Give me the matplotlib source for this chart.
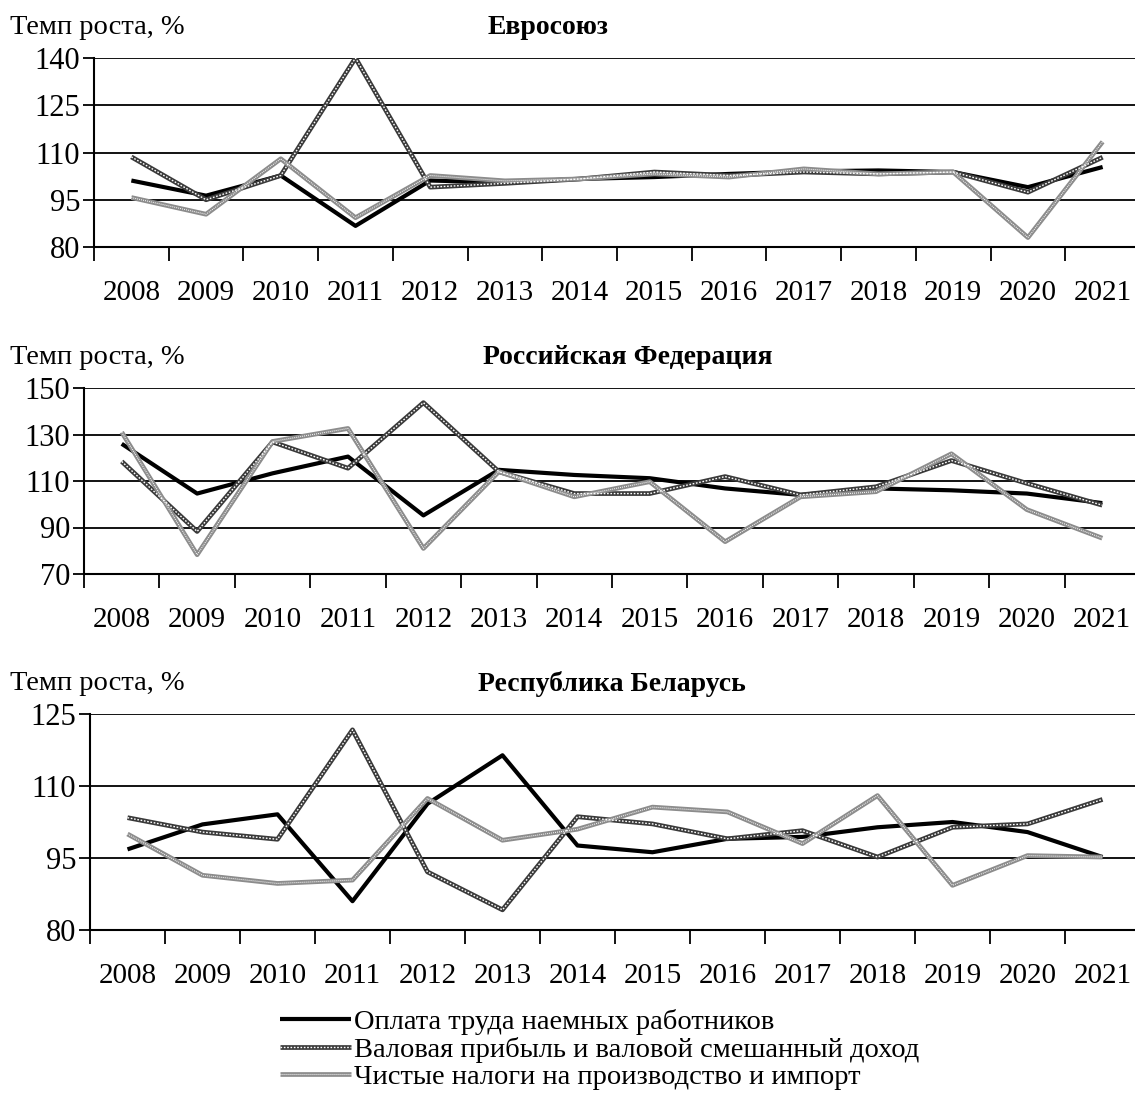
import matplotlib
matplotlib.use("Agg")
import matplotlib.pyplot as plt
from matplotlib.legend_handler import HandlerTuple

plt.rcParams['font.family'] = ['Liberation Serif', 'DejaVu Serif']

years = [str(y) for y in range(2008, 2022)]
series_names = ["Оплата труда наемных работников",
                "Валовая прибыль и валовой смешанный доход",
                "Чистые налоги на производство и импорт"]

eu_comp = [101.1, 96.3, 102.7, 86.7, 101.1, 100.5, 101.6, 102.2, 103.2, 104.0, 104.3, 103.8, 99.0, 105.4]
eu_gross = [108.6, 95.0, 102.7, 140.0, 99.0, 100.2, 101.6, 103.8, 102.7, 103.8, 103.2, 103.8, 97.4, 108.5]
eu_tax = [95.7, 90.4, 108.0, 89.3, 102.7, 101.0, 101.6, 103.2, 102.2, 104.8, 103.2, 103.8, 83.0, 113.4]

ru_comp = [126.0, 104.6, 113.3, 120.5, 95.2, 114.8, 112.6, 111.2, 106.8, 104.0, 106.8, 106.0, 104.6, 100.5]
ru_gross = [118.4, 88.3, 126.8, 115.5, 143.7, 114.0, 104.6, 104.6, 111.9, 104.0, 107.5, 118.8, 109.0, 99.6]
ru_tax = [131.0, 78.3, 127.0, 132.6, 81.0, 114.0, 103.2, 109.7, 83.9, 103.2, 105.4, 121.7, 97.7, 85.4]

by_comp = [96.8, 102.0, 104.1, 86.0, 106.3, 116.4, 97.6, 96.2, 99.0, 99.4, 101.4, 102.5, 100.4, 95.2]
by_gross = [103.4, 100.4, 98.9, 121.7, 92.1, 84.2, 103.6, 102.1, 99.0, 100.7, 95.2, 101.4, 102.1, 107.2]
by_tax = [100.0, 91.4, 89.7, 90.4, 107.4, 98.7, 101.0, 105.6, 104.6, 98.0, 108.0, 89.3, 95.5, 95.2]

panels = [
    ("Евросоюз", [eu_comp, eu_gross, eu_tax], [80, 95, 110, 125, 140]),
    ("Российская Федерация", [ru_comp, ru_gross, ru_tax], [70, 90, 110, 130, 150]),
    ("Республика Беларусь", [by_comp, by_gross, by_tax], [80, 95, 110, 125]),
]

W, H = 1135, 1099
fig = plt.figure(figsize=(W / 100, H / 100), dpi=100)

# pixel boxes: left, top, bottom
boxes = [(94, 58, 247), (84, 388, 574), (90, 714, 930)]
right_px = 1140
title_x = [548, 628, 612]

styles = [
    dict(base=dict(color='black', lw=3.0), over=None),
    dict(base=dict(color='#3a3a3a', lw=3.4), over=dict(color='white', lw=1.0, dashes=(1.2, 1.2))),
    dict(base=dict(color='#8c8c8c', lw=3.4), over=dict(color='white', lw=0.8, dashes=(0.8, 1.0))),
]

handles = []
for i, ((title, data, yt), (l, t, b)) in enumerate(zip(panels, boxes)):
    ax = fig.add_axes([l / W, 1 - b / H, (right_px - l) / W, (b - t) / H])
    x = list(range(len(years)))
    hs = []
    for s, vals in zip(styles, data):
        ln, = ax.plot(x, vals, solid_capstyle='butt', zorder=3, **s['base'])
        h = [ln]
        if s['over'] is not None:
            o = s['over']
            ov, = ax.plot(x, vals, color=o['color'], lw=o['lw'], dashes=o['dashes'], zorder=4)
            h.append(ov)
        hs.append(tuple(h))
    if i == 0:
        handles = hs
    ax.set_xlim(-0.5, len(years) - 0.5)
    ax.set_ylim(yt[0], yt[-1])
    ax.set_yticks(yt)
    ax.set_yticklabels([str(v) for v in yt], fontsize=22)
    ax.tick_params(axis='y', direction='out', length=8, width=1.3, pad=2)
    ax.set_xticks(x)
    ax.set_xticklabels(years, fontsize=21)
    ax.tick_params(axis='x', which='major', length=0, pad=23.5)
    ax.set_xticks([v - 0.5 for v in x], minor=True)
    ax.tick_params(axis='x', which='minor', direction='out', length=10, width=1.3)
    ax.grid(axis='y', color='black', lw=1.3)
    for sp in ['top', 'right']:
        ax.spines[sp].set_visible(False)
    ax.spines['left'].set_linewidth(1.5)
    ax.spines['bottom'].set_linewidth(1.5)
    ax.set_axisbelow(True)
    fig.text(10 / W, 1 - (t - 30) / H, "Темп роста, %", fontsize=20.5, va='center', ha='left')
    fig.text(title_x[i] / W, 1 - (t - 30) / H, title, fontsize=20, fontweight='bold',
             va='center', ha='center')

fig.legend(handles, series_names, loc='upper left', bbox_to_anchor=(280 / W, 1 - 1009 / H),
           frameon=False, fontsize=20.5, handlelength=2.5, handletextpad=0.1,
           labelspacing=0.06, borderpad=0, borderaxespad=0,
           handler_map={tuple: HandlerTuple(ndivide=1, pad=0)})

fig.savefig("out.png", dpi=100)
